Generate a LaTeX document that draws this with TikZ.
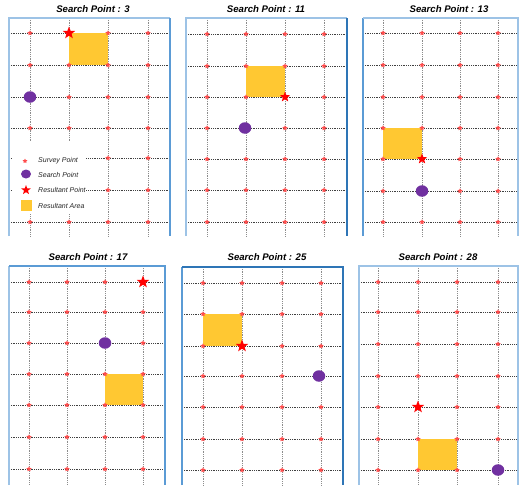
\documentclass[tikz,border=0pt]{standalone}
\usepackage{fontspec}
\setmainfont{Liberation Sans}
\usetikzlibrary{shapes.geometric}
\definecolor{frA}{RGB}{157,195,230}
\definecolor{frB}{RGB}{46,117,182}
\definecolor{frC}{RGB}{91,155,213}
\definecolor{pur}{RGB}{112,48,160}
\definecolor{yel}{RGB}{255,200,50}
\tikzset{
 hline/.style={black!75, line width=0.6pt, dash pattern=on 0.8pt off 1pt},
 vline/.style={black!45, line width=0.6pt, dash pattern=on 0.8pt off 1pt},
 survey/.style={star, star points=5, star point ratio=2.0, fill=red!70, inner sep=0pt, minimum size=5.5pt, draw=none},
 result/.style={star, star points=5, star point ratio=2.4, fill=red, draw=none, inner sep=0pt, minimum size=13pt},
 search/.style={ellipse, fill=pur, inner sep=0pt, minimum width=12.5pt, minimum height=11.5pt},
 area/.style={fill=yel},
 ttl/.style={font=\fontsize{9.6}{11}\selectfont\bfseries\itshape},
 leg/.style={font=\fontsize{7}{8}\selectfont\itshape, anchor=west, text=black!85, inner sep=0pt},
 frame/.style={line width=1.1pt},
}
\newcommand\gridlines[6]{%
  \foreach \yy in {#6} \draw[hline] (#1,\yy) -- (#2,\yy);
  \foreach \xx in {#5} \draw[vline] (\xx,#3) -- (\xx,#4);
}
\newcommand\gridpoints[2]{%
  \foreach \xx in {#1} \foreach \yy in {#2} \node[survey] at (\xx,\yy) {};
}
\begin{document}
\begin{tikzpicture}[x=1pt,y=-1pt]
\useasboundingbox[fill=white] (0,0) rectangle (519,485);

% ---------- Panel 1 ----------
\node[ttl] (t1) at (93,9) {Search Point : 3};
\gridlines{9}{170}{18}{236}{30,69,108,148}{33,65,97,128,158,190,222}
\fill[area] (69,33) rectangle (108,65);
\gridpoints{30,69,108,148}{33,65,97,128,158,190,222}
\fill[white] (12,141) rectangle (86,214);
\node[search] (p1) at (30,97) {};
\node[result] (r1) at (69,33) {};
\node[survey, minimum size=5pt] (l1) at (25,161) {};
\node[leg] (lt1) at (38,161) {Survey Point};
\node[search, minimum width=10pt, minimum height=9pt] (l2) at (26,174) {};
\node[leg] (lt2) at (38,175) {Search Point};
\node[result, minimum size=10pt] (l3) at (26,190) {};
\node[leg] (lt3) at (38,190) {Resultant Point};
\fill[area] (21,200) rectangle (32,211);
\node[leg] (lt4) at (38,206) {Resultant Area};
\draw[frame, frA] (9,236) -- (9,18) -- (170,18);
\draw[frame, frC] (170,18) -- (170,236);

% ---------- Panel 2 ----------
\node[ttl] (t2) at (266,9) {Search Point : 11};
\gridlines{186}{347}{18}{236}{207,246,285,324}{34,66,97,128,159,190,222}
\fill[area] (246,66) rectangle (285,97);
\gridpoints{207,246,285,324}{34,66,97,128,159,190,222}
\node[search] (p2) at (245,128) {};
\node[result, minimum size=11pt] (r2) at (285,97) {};
\draw[frame, frA] (186,236) -- (186,18) -- (347,18);
\draw[frame, frB] (347,18) -- (347,236);

% ---------- Panel 3 ----------
\node[ttl] (t3) at (449,9) {Search Point : 13};
\gridlines{363}{518}{18}{236}{383,422,460,498}{33,65,97,128,159,191,222}
\fill[area] (383,128) rectangle (422,159);
\gridpoints{383,422,460,498}{33,65,97,128,159,191,222}
\node[search] (p3) at (422,191) {};
\node[result, minimum size=11pt] (r3) at (422,159) {};
\draw[frame, frC] (363,236) -- (363,18);
\draw[frame, frA] (363,18) -- (518,18) -- (518,236);

% ---------- Panel 4 ----------
\node[ttl] (t4) at (88,257) {Search Point : 17};
\gridlines{9}{165}{266}{485}{29,67,105,143}{282,312,343,374,405,437,469}
\fill[area] (105,374) rectangle (143,405);
\gridpoints{29,67,105,143}{282,312,343,374,405,437,469}
\node[search] (p4) at (105,343) {};
\node[result] (r4) at (143,282) {};
\draw[frame, frA] (9,485) -- (9,266);
\draw[frame, frC] (9,266) -- (165,266) -- (165,485);

% ---------- Panel 5 ----------
\node[ttl] (t5) at (267,257) {Search Point : 25};
\gridlines{182}{343}{267}{485}{203,242,282,321}{283,314,346,376,407,439,470}
\fill[area] (203,314) rectangle (242,346);
\gridpoints{203,242,282,321}{283,314,346,376,407,439,470}
\node[search] (p5) at (319,376) {};
\node[result] (r5) at (242,346) {};
\draw[frame, frC] (182,485) -- (182,267);
\draw[frame, frB] (182,267) -- (343,267) -- (343,485);

% ---------- Panel 6 ----------
\node[ttl] (t6) at (438,257) {Search Point : 28};
\gridlines{359}{518}{266}{485}{378,418,457,498}{282,312,344,376,407,439,470}
\fill[area] (418,439) rectangle (457,470);
\gridpoints{378,418,457,498}{282,312,344,376,407,439,470}
\node[search] (p6) at (498,470) {};
\node[result] (r6) at (418,407) {};
\draw[frame, frA] (359,485) -- (359,266) -- (518,266) -- (518,485);
\end{tikzpicture}
\end{document}
